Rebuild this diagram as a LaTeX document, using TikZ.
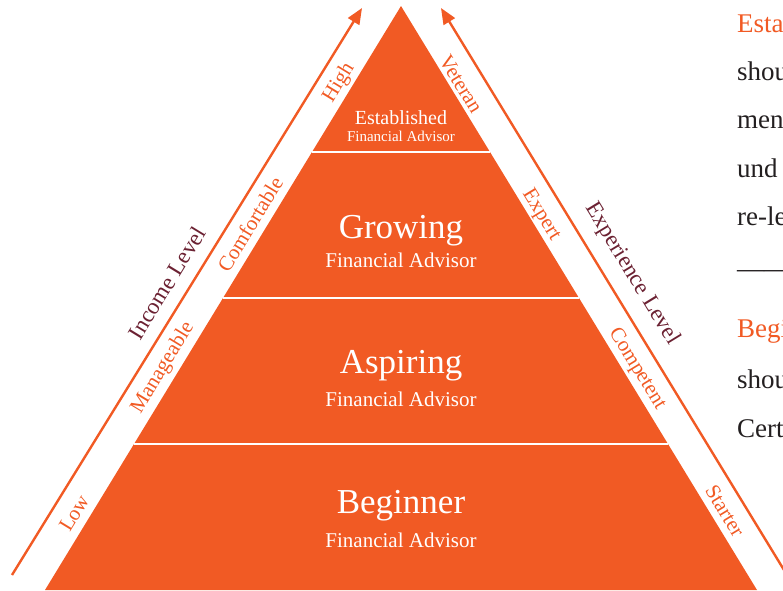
\documentclass[tikz,border=0pt]{standalone}
\usepackage{fontspec}
\setmainfont{Liberation Serif}
\usetikzlibrary{arrows.meta,calc}
\definecolor{advorange}{HTML}{F15A24}
\definecolor{advmaroon}{HTML}{6B2132}
\definecolor{advtext}{HTML}{231F20}

\begin{document}
\begin{tikzpicture}[x=1pt,y=-1pt,
  band/.style={white,line width=2pt},
  axis/.style={advorange,line width=2.4pt,-{Triangle[length=16pt,width=13pt]}},
  tier/.style={white,anchor=base,font=\fontsize{35}{38}\selectfont},
  role/.style={white,anchor=base,font=\fontsize{21}{24}\selectfont},
  lvlleft/.style={advorange,rotate=58.6,font=\fontsize{21}{24}\selectfont},
  lvlright/.style={advorange,rotate=-58.6,font=\fontsize{21}{24}\selectfont},
  axisname/.style={advmaroon,font=\fontsize{23}{26}\selectfont},
  side/.style={advtext,anchor=base west,inner sep=0pt,font=\fontsize{27}{30}\selectfont}]
  \useasboundingbox (0,0) rectangle (783,590);
  \begin{scope}
  \clip (0,0) rectangle (783,590);
  % advisor pyramid
  \coordinate (top) at (401,6);
  \coordinate (bl) at (45,590);
  \coordinate (br) at (757,590);
  \fill[advorange] (top) -- (bl) -- (br) -- cycle;
  \foreach \t in {0.25,0.5,0.75}
    \draw[band] ($(top)!\t!(bl)$) -- ($(top)!\t!(br)$);

  % tiers
  \node[white,anchor=base,font=\fontsize{20}{22}\selectfont] (est) at (401,124) {Established};
  \node[white,anchor=base,font=\fontsize{15}{17}\selectfont] (estfa) at (401,141) {Financial Advisor};
  \node[tier] (grow) at (401,238) {Growing};
  \node[role] (growfa) at (401,267) {Financial Advisor};
  \node[tier] (asp) at (401,373) {Aspiring};
  \node[role] (aspfa) at (401,406) {Financial Advisor};
  \node[tier] (beg) at (401,513) {Beginner};
  \node[role] (begfa) at (401,547) {Financial Advisor};

  % axes
  \coordinate (inc0) at (12,575);
  \coordinate (inc1) at (362,8);
  \coordinate (exp0) at (784,570);
  \coordinate (exp1) at (441,8);
  \draw[axis] (inc0) -- (inc1);
  \draw[axis] (exp0) -- (exp1);

  \node[lvlleft] (high) at (339,83) {High};
  \node[lvlleft] (comf) at (250,224) {Comfortable};
  \node[lvlleft] (mng) at (163,368) {Manageable};
  \node[lvlleft] (low) at (74,513) {Low};
  \node[axisname,rotate=58.6] (inc) at (167,283) {Income Level};

  \node[lvlright] (vet) at (461,84) {Veteran};
  \node[lvlright] (xpt) at (541,215) {Expert};
  \node[lvlright] (cmp) at (637,369) {Competent};
  \node[lvlright] (strt) at (725,511) {Starter};
  \node[axisname,rotate=-58.6] (exp) at (632,274) {Experience Level};

  % text beside the pyramid
  \node[side,advorange] (t1) at (737,32) {Esta};
  \node[side] (t2) at (737,80) {shou};
  \node[side] (t3) at (737,128) {men};
  \node[side] (t4) at (737,177) {und};
  \node[side] (t5) at (737,225) {re-le};
  \node[side] (t6) at (737,277) {———};
  \node[side,advorange] (t7) at (737,337) {Begi};
  \node[side] (t8) at (737,388) {shou};
  \node[side] (t9) at (737,437) {Cert};
  \end{scope}
\end{tikzpicture}
\end{document}
